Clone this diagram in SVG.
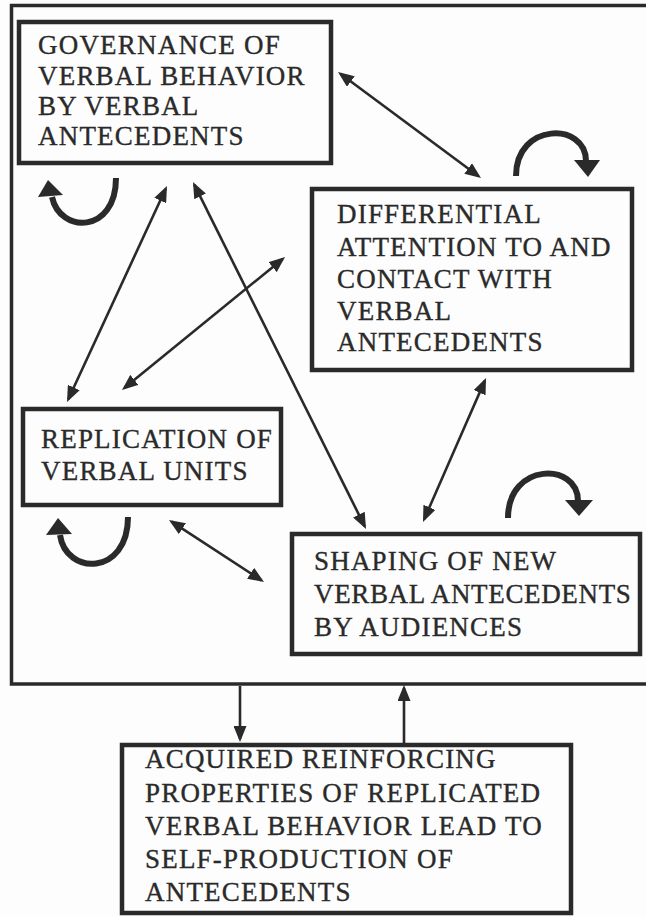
<svg xmlns="http://www.w3.org/2000/svg" width="646" height="917" viewBox="0 0 646 917">
  <style>
    .bg { fill: #fdfdfd; }
    .frame { fill: none; stroke: #2a2a2a; stroke-width: 3.5; }
    .box { fill: #fdfdfd; stroke: #2a2a2a; stroke-width: 4.5; }
    .lbl { font-family: "Liberation Serif", "Times New Roman", serif; font-size: 27px; letter-spacing: 1.2px; fill: #2a2a2a; stroke: #2a2a2a; stroke-width: 0.35px; }
    .link { fill: none; stroke: #2a2a2a; stroke-width: 2.6; }
    .curve { fill: none; stroke: #2a2a2a; stroke-width: 6; }
    .head { fill: #2a2a2a; }
  </style>
  <defs>
    <marker id="ah" viewBox="0 0 16 13" refX="13" refY="6.5" markerWidth="16" markerHeight="13" markerUnits="userSpaceOnUse" orient="auto-start-reverse">
      <path d="M0,0 L16,6.5 L0,13 Z" fill="#2a2a2a"/>
    </marker>
  </defs>
  <rect class="bg" x="0" y="0" width="646" height="917"/>
  <rect id="frame" class="frame" x="11.5" y="5.5" width="660" height="678.5"/>

  <g id="connectors">
    <line class="link" x1="340.4" y1="73.8" x2="478.6" y2="176.2" marker-start="url(#ah)" marker-end="url(#ah)"/>
    <line class="link" x1="165.7" y1="188.7" x2="68.3" y2="399.3" marker-start="url(#ah)" marker-end="url(#ah)"/>
    <line class="link" x1="282.7" y1="258.9" x2="124.3" y2="388.1" marker-start="url(#ah)" marker-end="url(#ah)"/>
    <line class="link" x1="194.3" y1="184.7" x2="364.7" y2="526.3" marker-start="url(#ah)" marker-end="url(#ah)"/>
    <line class="link" x1="484.8" y1="380.8" x2="424.2" y2="519.2" marker-start="url(#ah)" marker-end="url(#ah)"/>
    <line class="link" x1="171.5" y1="521.6" x2="261.5" y2="580.4" marker-start="url(#ah)" marker-end="url(#ah)"/>
    <line class="link" x1="240" y1="686" x2="240" y2="739" marker-end="url(#ah)"/>
    <line class="link" x1="404" y1="743" x2="404" y2="688" marker-end="url(#ah)"/>
    <path class="curve" d="M516,176 C516,122 586,122 586,161"/>
    <polygon class="head" points="588,177 574,160 600,160"/>
    <path class="curve" d="M116,178 C116,234 60,234 52,197"/>
    <polygon class="head" points="48,180 38,197 63,195"/>
    <path class="curve" d="M508,518 C508,462 578,462 578,501"/>
    <polygon class="head" points="579,516 565,500 593,500"/>
    <path class="curve" d="M128,517 C128,576 66,576 60,535"/>
    <polygon class="head" points="58,518 46,535 72,534"/>
  </g>

  <g id="governance">
    <rect class="box" x="19" y="22" width="312" height="141"/>
    <text class="lbl" x="38" y="54">GOVERNANCE OF</text>
    <text class="lbl" x="38" y="85">VERBAL BEHAVIOR</text>
    <text class="lbl" x="38" y="115">BY VERBAL</text>
    <text class="lbl" x="38" y="145">ANTECEDENTS</text>
  </g>

  <g id="differential">
    <rect class="box" x="312" y="189" width="320" height="181"/>
    <text class="lbl" x="337" y="223">DIFFERENTIAL</text>
    <text class="lbl" x="337" y="256">ATTENTION TO AND</text>
    <text class="lbl" x="337" y="288">CONTACT WITH</text>
    <text class="lbl" x="337" y="320">VERBAL</text>
    <text class="lbl" x="337" y="351">ANTECEDENTS</text>
  </g>

  <g id="replication">
    <rect class="box" x="23" y="409" width="258" height="96"/>
    <text class="lbl" x="41" y="448">REPLICATION OF</text>
    <text class="lbl" x="41" y="480">VERBAL UNITS</text>
  </g>

  <g id="shaping">
    <rect class="box" x="292" y="534" width="348" height="120"/>
    <text class="lbl" x="314" y="570">SHAPING OF NEW</text>
    <text class="lbl" x="314" y="603" textLength="318" lengthAdjust="spacing">VERBAL ANTECEDENTS</text>
    <text class="lbl" x="314" y="636">BY AUDIENCES</text>
  </g>

  <g id="acquired">
    <rect class="box" x="122" y="745" width="449" height="168"/>
    <text class="lbl" x="145" y="768">ACQUIRED REINFORCING</text>
    <text class="lbl" x="145" y="802">PROPERTIES OF REPLICATED</text>
    <text class="lbl" x="145" y="835">VERBAL BEHAVIOR LEAD TO</text>
    <text class="lbl" x="145" y="868">SELF-PRODUCTION OF</text>
    <text class="lbl" x="145" y="901">ANTECEDENTS</text>
  </g>
</svg>
